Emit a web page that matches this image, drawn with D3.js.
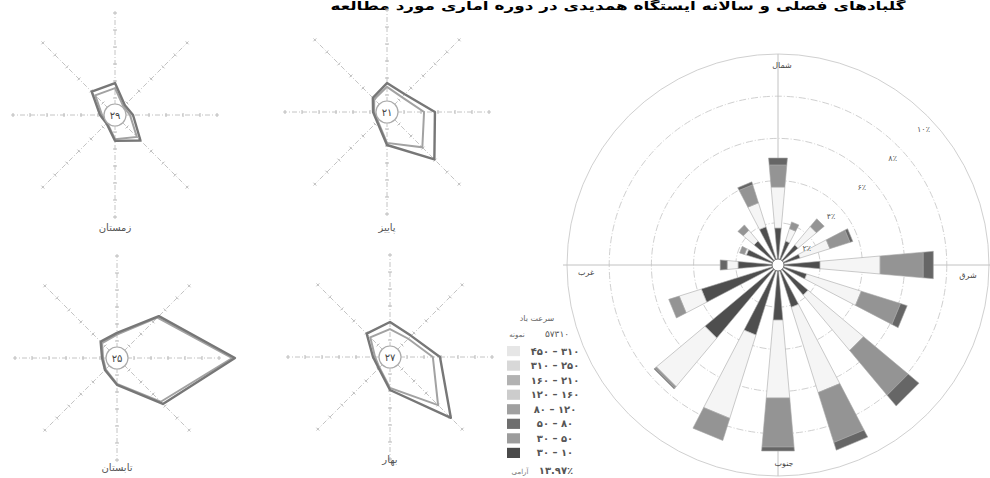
<!DOCTYPE html>
<html><head><meta charset="utf-8">
<script src="https://cdn.jsdelivr.net/npm/d3@7"></script>
<style>body{margin:0;background:#fff}svg{display:block}text{font-family:"DejaVu Sans",sans-serif}</style>
</head><body><svg id="c" width="990" height="478"></svg>
<script>
// ---------------- DATA ----------------
const titleText = "گلبادهای فصلی و سالانه ایستگاه همدیدی در دوره آماری مورد مطالعه";
// wind rose: 16 directions, clockwise from north
const directions = ["N","NNE","NE","ENE","E","ESE","SE","SSE","S","SSW","SW","WSW","W","WNW","NW","NNW"];
// frequency (%) by speed class (lowest class first)
const speed10_30  = [1.76,1.19,1.24,1.10,2.00,1.43,1.86,2.10,2.62,3.48,4.52,3.81,1.90,1.57,1.48,1.90];
const speed30_50  = [1.95,0.62,1.14,1.48,2.86,2.71,3.43,4.24,3.71,4.14,3.00,1.10,0.52,0.10,0.67,1.19];
const speed50_80  = [1.05,0.33,0.48,1.00,2.05,1.95,2.76,2.48,2.33,1.10,0.10,0.52,0.00,0.24,0.33,0.90];
const speed80_120 = [0.33,0.00,0.00,0.14,0.48,0.33,0.67,0.38,0.19,0.00,0.05,0.00,0.33,0.00,0.00,0.14];
const ringValues = [2,4,6,8,10];
const ringLabels = ["۲٪","۴٪","۶٪","۸٪","۱۰٪"];
const compassLabels = ["شمال","شرق","جنوب","غرب"];
// legend (top to bottom)
const legendTitle = "سرعت باد";
const legendSub = ["نمونه","۵۷۳۱۰"];
const legendLabels = ["۴۵۰ – ۳۱۰","۳۱۰ – ۲۵۰","۱۶۰ – ۲۱۰","۱۲۰ – ۱۶۰","۸۰ – ۱۲۰","۵۰ – ۸۰","۳۰ – ۵۰","۳۰ – ۱۰"];
const calmLabel = "آرامی";
const calmValue = "۱۳.۹۷٪";
// seasonal radar diagrams: 8 directions N, NE, E, SE, S, SW, W, NW (%)
const radarAxes = ["N","NE","E","SE","S","SW","W","NW"];
const seasonNames = ["زمستان","پاییز","تابستان","بهار"];
const seasonCalm = ["۲۹","۲۱","۲۵","۲۷"];
const winterOuter = [9.4,4.1,5.3,10.6,7.6,3.5,4.4,9.7];
const winterInner = [7.9,3.5,4.4,9.1,7.1,3.2,3.8,8.2];
const autumnOuter = [8.5,7.4,14.1,19.7,9.7,4.1,4.1,5.9];
const autumnInner = [7.4,6.2,10.9,14.7,9.1,3.8,3.8,5.3];
const summerOuter = [7.4,17.4,34.7,19.1,7.9,5.0,4.4,6.8];
const summerInner = [6.9,16.8,33.9,18.2,7.6,4.7,4.1,6.2];
const springOuter = [10.3,8.8,14.7,25.3,9.7,4.7,5.0,9.7];
const springInner = [8.2,7.6,12.6,20.0,9.1,4.4,4.4,8.2];
const radarTicks = [5,10,15,20,25,30];

// ---------------- DRAW ----------------
const svg = d3.select("#c");

// title
svg.append("text").attr("x",618).attr("y",10).attr("text-anchor","middle")
  .attr("direction","rtl").style("font-size","12px").style("font-weight","bold")
  .attr("textLength",575).attr("lengthAdjust","spacingAndGlyphs")
  .attr("fill","#000").text(titleText);

// ---- seasonal radars ----
const panels = [
  {c:[115,115], ly:231, outer:winterOuter, inner:winterInner},
  {c:[387,112], ly:231, outer:autumnOuter, inner:autumnInner},
  {c:[117,358], ly:471, outer:summerOuter, inner:summerInner},
  {c:[390,357], ly:463, outer:springOuter, inner:springInner}
];
const rr = d3.scaleLinear().domain([0,30]).range([0,102]);
const ang8 = d3.scalePoint().domain(radarAxes).range([0, 2*Math.PI*7/8]);
panels.forEach((p,k)=>{
  const g = svg.append("g").attr("transform",`translate(${p.c[0]},${p.c[1]})`);
  radarAxes.forEach(a=>{
    const t = ang8(a);
    const e = d3.pointRadial(t, rr(30)+2);
    g.append("line").attr("x1",0).attr("y1",0).attr("x2",e[0]).attr("y2",e[1])
      .attr("stroke","#c4c4c4").attr("stroke-width",1).attr("stroke-dasharray","5,2,1,2");
    radarTicks.forEach(v=>{
      const q = d3.pointRadial(t, rr(v));
      const n = [Math.cos(t)*2, Math.sin(t)*2];
      g.append("line").attr("x1",q[0]-n[0]).attr("y1",q[1]-n[1]).attr("x2",q[0]+n[0]).attr("y2",q[1]+n[1])
        .attr("stroke","#b8b8b8").attr("stroke-width",1);
    });
  });
  const line = d3.lineRadial().angle((d,i)=>ang8(radarAxes[i])).radius(d=>rr(d)).curve(d3.curveLinearClosed);
  g.append("path").attr("d",line(p.inner)).attr("fill","none").attr("stroke","#a2a2a2").attr("stroke-width",2);
  g.append("path").attr("d",line(p.outer)).attr("fill","none").attr("stroke","#777").attr("stroke-width",2.4).attr("stroke-linejoin","round");
  g.append("circle").attr("r",11).attr("fill","#fff").attr("stroke","#aaa").attr("stroke-width",1.2);
  g.append("text").attr("y",3.5).attr("text-anchor","middle").style("font-size","10px").attr("fill","#444").text(seasonCalm[k]);
  svg.append("text").attr("x",p.c[0]).attr("y",p.ly).attr("text-anchor","middle").style("font-size","10px")
    .attr("fill","#555").text(seasonNames[k]);
});

// ---- wind rose ----
const cx = 778, cy = 265;
const rScale = d3.scaleLinear().domain([0,10]).range([0,211]);
const rose = svg.append("g").attr("transform",`translate(${cx},${cy})`);
ringValues.forEach((v,i)=>{
  rose.append("circle").attr("r",rScale(v)).attr("fill","none")
    .attr("stroke", "#d0d0d0").attr("stroke-width",1)
    .attr("stroke-dasharray", i===ringValues.length-1 ? null : "7,2,1,2");
});
const R = rScale(10);
rose.append("line").attr("x1",-R-4).attr("x2",R+4).attr("y1",0).attr("y2",0).attr("stroke","#c2c2c2");
rose.append("line").attr("y1",-R).attr("y2",R).attr("x1",0).attr("x2",0).attr("stroke","#c2c2c2");

const keys = ["c1","c2","c3","c4"];
const classColors = ["#4e4e4e","#f5f5f5","#949494","#666666"];
const table = directions.map((d,i)=>({dir:d, c1:speed10_30[i], c2:speed30_50[i], c3:speed50_80[i], c4:speed80_120[i]}));
const stacked = d3.stack().keys(keys)(table);
const ang16 = d3.scalePoint().domain(directions).range([0, 2*Math.PI*15/16]);
const half = 0.088;
stacked.forEach((layer,li)=>{
  layer.forEach(s=>{
    if (s[1]-s[0] <= 0) return;
    const a = ang16(s.data.dir);
    const pts = [d3.pointRadial(a-half, rScale(s[0])), d3.pointRadial(a-half, rScale(s[1])),
                 d3.pointRadial(a+half, rScale(s[1])), d3.pointRadial(a+half, rScale(s[0]))];
    rose.append("path").attr("d", d3.line()(pts)+"Z").attr("fill",classColors[li])
      .attr("stroke","#a8a8a8").attr("stroke-width",0.6);
  });
});
rose.append("circle").attr("r",6).attr("fill","#fff").attr("stroke","#777").attr("stroke-width",1);

// ring labels along NE diagonal
ringValues.forEach((v,i)=>{
  const a = i===0 ? 1.05 : 0.82;
  const q = d3.pointRadial(a, rScale(v)-(i===0?9:12));
  rose.append("text").attr("x",q[0]).attr("y",q[1]+3).attr("text-anchor","middle")
    .style("font-size","8px").attr("fill","#555").text(ringLabels[i]);
});
// compass labels
const compPos = [[4,-197],[190,13],[6,201],[-192,10]];
compassLabels.forEach((t,i)=>{
  rose.append("text").attr("x",compPos[i][0]).attr("y",compPos[i][1]).attr("text-anchor","middle")
    .style("font-size","8px").attr("fill","#444").text(t);
});

// ---- legend ----
const lg = svg.append("g");
lg.append("text").attr("x",537).attr("y",321).attr("text-anchor","middle").style("font-size","8px").attr("fill","#666").text(legendTitle);
lg.append("text").attr("x",517).attr("y",337).attr("text-anchor","middle").style("font-size","7px").attr("fill","#666").text(legendSub[0]);
lg.append("text").attr("x",557).attr("y",337).attr("text-anchor","middle").style("font-size","9px").attr("fill","#555").text(legendSub[1]);
const legendColors = ["#e6e6e6","#d8d8d8","#b2b2b2","#cccccc","#a0a0a0","#6e6e6e","#9c9c9c","#4a4a4a"];
const ly = d3.scaleBand().domain(legendLabels).range([346,458]).paddingInner(0.3);
legendLabels.forEach((t,i)=>{
  lg.append("rect").attr("x",507).attr("y",ly(t)).attr("width",13).attr("height",ly.bandwidth())
    .attr("fill",legendColors[i]);
  lg.append("text").attr("x",555).attr("y",ly(t)+ly.bandwidth()/2+3.5).attr("text-anchor","middle")
    .style("font-size","10px").style("font-weight","bold").attr("fill","#555").text(t);
});
lg.append("text").attr("x",520).attr("y",474).attr("text-anchor","middle").style("font-size","7px").attr("fill","#777").text(calmLabel);
lg.append("text").attr("x",556).attr("y",474).attr("text-anchor","middle").style("font-size","10px").style("font-weight","bold").attr("fill","#555").text(calmValue);
</script></body></html>
